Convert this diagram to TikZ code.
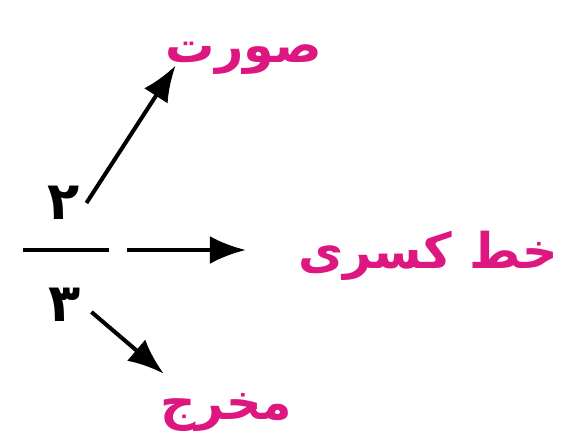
\documentclass[tikz,border=0pt]{standalone}
\usepackage{fontspec}
\newfontfamily\arabicfont[Script=Arabic]{DejaVu Sans}
\TeXXeTstate=1
\definecolor{labelpink}{RGB}{221,22,128}
\usetikzlibrary{arrows.meta}

\begin{document}
\begin{tikzpicture}[x=0.02cm,y=-0.02cm,
      digit/.style={inner sep=0pt,font=\arabicfont\bfseries\fontsize{30}{36}\selectfont},
      label/.style={inner sep=0pt,text=labelpink,font=\arabicfont\bfseries\fontsize{28}{34}\selectfont},
      arr/.style={line width=2.3pt,-{Latex[length=0.72cm,width=0.56cm]}}
      ]
      \useasboundingbox (0,0) rectangle (561,442);
      \node (bar) [fill=black,inner sep=0pt,minimum width=1.74cm,minimum height=2.3pt] at (66,250) {};
      \node (num) [digit] at (64,203) {\beginR ۲\endR};
      \node (den) [digit] at (65,305) {\beginR ۳\endR};
      \node (sur)  [label] at (244,58)  {\beginR صورت\endR};
      \node (line) [label] at (428,256) {\beginR خط کسری\endR};
      \node (makh) [label] at (226,412) {\beginR مخرج\endR};
      \draw[arr] ([shift={(6,0)}]num.east) -- ([shift={(10,-9)}]sur.south west);
      \draw[arr] ([xshift=0.35cm]bar.east) -- ([xshift=-1.04cm]line.west |- bar.east);
      \draw[arr] ([shift={(10,7)}]den.east) -- ([shift={(4,-19)}]makh.north west);
    \end{tikzpicture}
\end{document}
